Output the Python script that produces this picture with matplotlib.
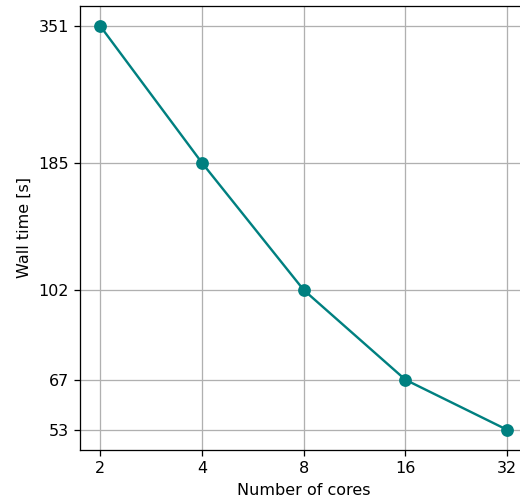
import matplotlib
matplotlib.use('Agg')
import matplotlib.pyplot as plt
from matplotlib.ticker import FixedLocator, FixedFormatter, NullLocator

cores = [2, 4, 8, 16, 32]
wall_time = [351, 185, 102, 67, 53]

dpi = 115
fig = plt.figure(figsize=(520 / dpi, 501 / dpi), dpi=dpi)
ax = fig.add_axes([80 / 520, 51 / 501, 447.5 / 520, 444 / 501])

ax.plot(cores, wall_time, color='teal', marker='o', markersize=7, linewidth=1.5)
ax.set_xscale('log', base=2)
ax.set_yscale('log')

ax.xaxis.set_major_locator(FixedLocator(cores))
ax.xaxis.set_major_formatter(FixedFormatter([str(c) for c in cores]))
ax.xaxis.set_minor_locator(NullLocator())
ax.yaxis.set_major_locator(FixedLocator(wall_time))
ax.yaxis.set_major_formatter(FixedFormatter([str(t) for t in wall_time]))
ax.yaxis.set_minor_locator(NullLocator())

ax.grid(True, color='#b0b0b0', linewidth=0.8)
ax.set_xlabel('Number of cores')
ax.set_ylabel('Wall time [s]')

fig.savefig('out.png', dpi=dpi)
